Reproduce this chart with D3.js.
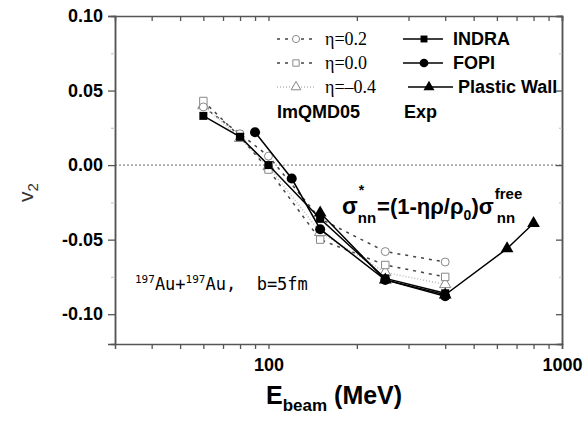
<!DOCTYPE html>
<html>
<head>
<meta charset="utf-8">
<script src="https://cdn.jsdelivr.net/npm/d3@7"></script>
<style>
  body { margin: 0; background: #fff; }
  text { font-family: Arial, "Liberation Sans", sans-serif; }
</style>
</head>
<body>
<script>
// Data
var energies = [60, 80, 100, 150, 250, 400];
var eta02 = [0.039, 0.021, 0.006, -0.036, -0.058, -0.065];
var eta00 = [0.043, 0.019, -0.003, -0.050, -0.067, -0.075];
var etaM04 = [0.040, 0.018, -0.001, -0.045, -0.072, -0.080];

var indraE = [60, 80, 100, 150, 250, 400];
var indraV = [0.033, 0.019, 0.000, -0.036, -0.076, -0.086];
var fopiE = [90, 120, 150, 250, 400];
var fopiV = [0.022, -0.009, -0.043, -0.077, -0.088];
var wallE = [150, 250, 400, 650, 800];
var wallV = [-0.032, -0.077, -0.087, -0.056, -0.039];

var yTicks = [-0.10, -0.05, 0.00, 0.05, 0.10];
var yMinor = [-0.075, -0.025, 0.025, 0.075];
var xTicks = [100, 1000];
var xMinor = [40, 50, 60, 70, 80, 90, 200, 300, 400, 500, 600, 700, 800, 900];

var margin = {top: 16, right: 25, bottom: 78, left: 115},
    width = 587 - margin.left - margin.right,
    height = 422 - margin.top - margin.bottom;

var svg = d3.select("body").append("svg")
            .attr("width", 587)
            .attr("height", 422);

var g = svg.append("g")
           .attr("transform", "translate(" + margin.left + "," + margin.top + ")");

var xScale = d3.scaleLog().domain([30, 1000]).range([0, width]),
    yScale = d3.scaleLinear().domain([-0.12, 0.10]).range([height, 0]);

// zero line
g.append("line")
 .attr("x1", 0).attr("x2", width)
 .attr("y1", yScale(0)).attr("y2", yScale(0))
 .attr("stroke", "#666").attr("stroke-width", 1)
 .attr("stroke-dasharray", "2,2");

// axes
var axisColor = "#555";
var axBottom = g.append("g").attr("transform", "translate(0," + height + ")")
  .call(d3.axisBottom(xScale).tickValues(xTicks.concat(xMinor)).tickSize(5).tickFormat(d => xTicks.indexOf(d) >= 0 ? d : ""));
var axTop = g.append("g")
  .call(d3.axisBottom(xScale).tickValues(xTicks.concat(xMinor)).tickSize(5).tickFormat(""));
var axLeft = g.append("g")
  .call(d3.axisLeft(yScale).tickValues(yTicks).tickSize(7).tickFormat(d3.format(".2f")));
var axLeftMinor = g.append("g")
  .call(d3.axisLeft(yScale).tickValues(yMinor).tickSize(4).tickFormat(""));
var axRight = g.append("g").attr("transform", "translate(" + width + ",0)")
  .call(d3.axisLeft(yScale).tickValues(yTicks).tickSize(6).tickFormat(""));
var axRightMinor = g.append("g").attr("transform", "translate(" + width + ",0)")
  .call(d3.axisLeft(yScale).tickValues(yMinor).tickSize(3).tickFormat(""));

[axBottom, axTop, axLeft, axLeftMinor, axRight, axRightMinor].forEach(a => {
  a.select(".domain").attr("stroke", axisColor).attr("stroke-width", 1.5);
  a.selectAll(".tick line").attr("stroke", axisColor).attr("stroke-width", 1.3);
});
axLeftMinor.selectAll(".tick line").attr("stroke", "#ccc");
axRightMinor.selectAll(".tick line").attr("stroke", "#ccc");
axLeft.selectAll(".tick text")
    .attr("x", -12)
    .style("font-size", "18px").style("font-weight", "bold").attr("fill", "#000")
    .text(d => d3.format(".2f")(d).replace("\u2212", "-"));
axBottom.selectAll(".tick text")
      .attr("y", 14)
      .style("font-size", "18px").style("font-weight", "bold").attr("fill", "#000");

// model curves
var modelLine = d3.line().x((d, i) => xScale(energies[i])).y(d => yScale(d));

var models = [
  {vals: eta02, dash: "3,5", stroke: "#444", sym: "circle"},
  {vals: eta00, dash: "3,5", stroke: "#444", sym: "square"},
  {vals: etaM04, dash: "1,2", stroke: "#bbb", sym: "triangle"}
];

var symSize = {circle: 50, square: 55, triangle: 55};
var symType = {circle: d3.symbolCircle, square: d3.symbolSquare, triangle: d3.symbolTriangle};

models.forEach(m => {
  g.append("path")
   .attr("d", modelLine(m.vals))
   .attr("fill", "none")
   .attr("stroke", m.stroke)
   .attr("stroke-width", 1.5)
   .attr("stroke-dasharray", m.dash);
});
models.slice().reverse().forEach(m => {
  g.selectAll(null).data(m.vals).enter().append("path")
   .attr("transform", (d, i) => "translate(" + xScale(energies[i]) + "," + yScale(d) + ")")
   .attr("d", d3.symbol().type(symType[m.sym]).size(symSize[m.sym]))
   .attr("fill", "#fff")
   .attr("stroke", "#888")
   .attr("stroke-width", 1);
});

// experiments
var expSets = [
  {E: wallE, V: wallV, sym: d3.symbolTriangle, size: 70},
  {E: fopiE, V: fopiV, sym: d3.symbolCircle, size: 80},
  {E: indraE, V: indraV, sym: d3.symbolSquare, size: 64}
];

expSets.forEach(s => {
  var pts = s.E.map((e, i) => [xScale(e), yScale(s.V[i])]);
  g.append("path")
   .attr("d", d3.line()(pts))
   .attr("fill", "none")
   .attr("stroke", "#000")
   .attr("stroke-width", 1.5);
});
expSets.forEach(s => {
  g.selectAll(null).data(s.E).enter().append("path")
   .attr("transform", (d, i) => "translate(" + xScale(d) + "," + yScale(s.V[i]) + ")")
   .attr("d", d3.symbol().type(s.sym).size(s.size))
   .attr("fill", "#000");
});

// legend, models
var modelLabels = ["\u03b7=0.2", "\u03b7=0.0", "\u03b7=\u20130.4"];
var legRows = [39, 63, 87];
models.forEach((m, i) => {
  var y = legRows[i];
  svg.append("line")
     .attr("x1", 277).attr("x2", 314).attr("y1", y).attr("y2", y)
     .attr("stroke", m.stroke).attr("stroke-width", 1.5)
     .attr("stroke-dasharray", m.dash);
  svg.append("path")
     .attr("transform", "translate(296," + y + ")")
     .attr("d", d3.symbol().type(symType[m.sym]).size(40))
     .attr("fill", "#fff").attr("stroke", "#888");
  svg.append("text")
     .attr("x", 325).attr("y", y + 6)
     .style("font-family", "'Liberation Serif', 'DejaVu Serif', serif")
     .style("font-size", "18px")
     .text(modelLabels[i]);
});
svg.append("text").attr("x", 277).attr("y", 118)
   .style("font-size", "18px").style("font-weight", "bold").text("ImQMD05");

// legend, experiments
var expLabels = ["INDRA", "FOPI", "Plastic Wall"];
var expSyms = [expSets[2], expSets[1], expSets[0]];
var expX = [[403, 443, 424, 453], [403, 443, 424, 453], [408, 453, 429, 458]];
expSyms.forEach((s, i) => {
  var y = legRows[i], p = expX[i];
  svg.append("line")
     .attr("x1", p[0]).attr("x2", p[1]).attr("y1", y).attr("y2", y)
     .attr("stroke", "#000").attr("stroke-width", 1.5);
  svg.append("path")
     .attr("transform", "translate(" + p[2] + "," + y + ")")
     .attr("d", d3.symbol().type(s.sym).size(s.size * 0.75))
     .attr("fill", "#000");
  svg.append("text")
     .attr("x", p[3]).attr("y", y + 6)
     .style("font-size", "18px").style("font-weight", "bold")
     .text(expLabels[i]);
});
svg.append("text").attr("x", 404).attr("y", 118)
   .style("font-size", "18px").style("font-weight", "bold").text("Exp");

// formula, pieces placed one after the other
var fy = 214;
function piece(x, y, size, str) {
  var t = svg.append("text").attr("x", x).attr("y", y)
             .style("font-size", size + "px").style("font-weight", "bold").text(str);
  return x + t.node().getComputedTextLength();
}
var sx = piece(342, fy, 23, "\u03c3");
piece(sx + 1, fy - 19, 14, "*");
var nx = piece(sx, fy + 9, 15, "nn");
var ex = piece(nx + 1, fy, 22, "=(1-\u03b7\u03c1/\u03c1");
var zx = piece(ex, fy + 6, 14, "0");
var px = piece(zx, fy, 22, ")\u03c3");
piece(px + 1, fy - 15, 15, "free");
piece(px + 3, fy + 9, 15, "nn");

// reaction label
var r = svg.append("text").attr("x", 135).attr("y", 290)
           .style("font-family", "'DejaVu Sans Mono', monospace")
           .style("font-size", "17px");
r.append("tspan").attr("dy", -7).style("font-size", "11px").text("197");
r.append("tspan").attr("dy", 7).text("Au+");
r.append("tspan").attr("dy", -7).style("font-size", "11px").text("197");
r.append("tspan").attr("dy", 7).text("Au,\u00a0\u00a0b=5fm");

// axis titles
var xl = svg.append("text").attr("x", 266).attr("y", 404)
            .style("font-size", "25px").style("font-weight", "bold");
xl.append("tspan").text("E");
xl.append("tspan").attr("dy", 7).style("font-size", "17px").text("beam");
xl.append("tspan").attr("dy", -7).text(" (MeV)");

var yl = svg.append("text")
            .attr("transform", "translate(33,202) rotate(-90)")
            .style("font-size", "21px").attr("fill", "#333");
yl.append("tspan").text("v");
yl.append("tspan").attr("dy", 5).style("font-size", "15px").text("2");
</script>
</body>
</html>
